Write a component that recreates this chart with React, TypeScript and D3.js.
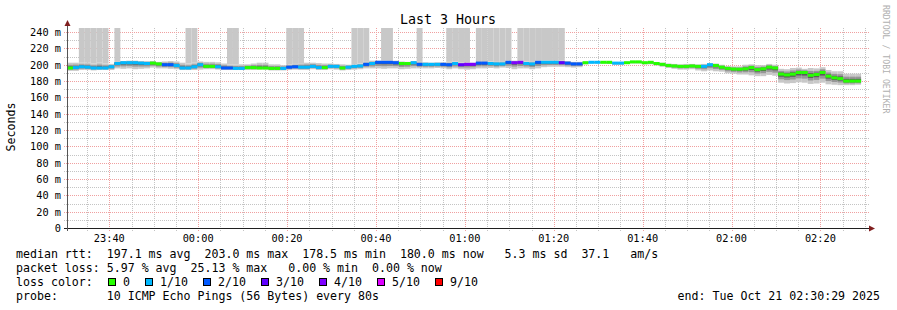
import React from 'react';
import * as d3 from 'd3';

// ---------- data ----------
const chartTitle = 'Last 3 Hours';
const yAxisLabel = 'Seconds';
const watermark = 'RRDTOOL / TOBI OETIKER';
const endTime = Date.UTC(2025, 9, 21, 2, 30, 29);
const spanSeconds = 3 * 3600;
const stepSeconds = 80;

// median rtt per 80 s step (ms)
const median: number[] = [
  196, 196.5, 197.5, 197, 196, 196, 196, 197.5, 201.5, 202.5,
  202.5, 202.5, 202, 201.5, 202, 201, 200, 200, 199, 196,
  196, 197.5, 200, 198, 198, 197.5, 196, 196, 195.5, 195.5,
  196.5, 196.5, 196, 196, 195.5, 195.5, 195.5, 197, 197.5, 197,
  197, 198, 196.5, 196.5, 198, 198, 196, 197, 198, 198.5,
  200.5, 201.5, 203, 203, 203, 202.5, 201.5, 201.5, 202.5, 200.5,
  200.5, 200.5, 200.5, 200.5, 200, 201.5, 200, 200.5, 200.5, 202,
  202, 201.5, 201, 201, 203, 202.5, 203, 201.5, 201, 203,
  203, 203, 203, 202.5, 202, 201, 201, 202.5, 203, 203,
  203, 203, 202, 202, 202.5, 203.5, 203.5, 202.5, 203, 201.5,
  200.5, 199, 198.5, 198, 198, 198.5, 198, 198, 200, 199,
  197, 195.5, 194.7, 194.5, 195, 196.5, 194, 195, 197, 196,
  188.5, 187.5, 188.5, 190.5, 190.5, 187, 188, 190.5, 186, 184,
  183, 180, 180, 180,
];

// lost pings (out of 10) per step
const lossCount: number[] = [
  0, 1, 1, 1, 1, 1, 1, 1, 1, 1,
  1, 1, 1, 1, 0, 0, 2, 2, 1, 1,
  1, 1, 1, 0, 0, 1, 2, 2, 1, 1,
  0, 0, 0, 0, 0, 0, 1, 2, 2, 1,
  1, 1, 1, 0, 1, 1, 0, 1, 1, 1,
  2, 1, 2, 2, 2, 2, 0, 0, 1, 2,
  1, 1, 1, 2, 2, 1, 3, 4, 4, 2,
  2, 1, 1, 1, 2, 4, 4, 1, 1, 2,
  1, 1, 1, 3, 2, 2, 2, 0, 1, 1,
  0, 0, 1, 1, 0, 0, 0, 0, 0, 0,
  0, 0, 0, 0, 0, 0, 0, 1, 1, 0,
  0, 0, 0, 0, 0, 0, 0, 0, 0, 0,
  0, 0, 0, 0, 0, 0, 0, 0, 0, 0,
  0, 0, 0, 0,
];

// fastest ping per step (ms)
const smokeLo: number[] = [
  192.5, 192.5, 193.5, 193.5, 193, 193.5, 193.5, 193.5, 195.5, 195,
  195.5, 194.5, 195, 195.5, 196.5, 195.5, 195.5, 195, 194.5, 193.5,
  193.5, 193.5, 194, 194.5, 194.5, 194, 193.5, 193.5, 193.5, 193.5,
  193.5, 193.5, 194, 194, 193, 193, 193, 193.5, 194, 193.5,
  193.5, 194.5, 193.5, 193.5, 194.5, 194, 193, 193.5, 194, 194.5,
  195.5, 195.5, 195.5, 195, 195.5, 195.5, 194.5, 195, 195.5, 195.5,
  195.5, 195.5, 196, 195.5, 194.5, 195.5, 194.5, 194, 194.5, 195.5,
  195.5, 196, 195.5, 196.5, 196, 194.5, 195.5, 195.5, 194.5, 195.5,
  197, 197.5, 197.5, 197.5, 197, 196.5, 197, 200.5, 201.5, 201.5,
  201.5, 201, 200, 200, 201, 201.5, 201.5, 200.5, 200.5, 199,
  197.5, 196, 195, 194, 194, 194.5, 193, 192, 193, 192,
  191.5, 189.5, 189, 188, 188, 187, 186, 186, 187.5, 186.5,
  178, 177, 177.5, 178.5, 178, 176.5, 177, 178, 176, 175.5,
  175, 175, 175, 175.5,
];

// slowest ping per step (ms)
const smokeHi: number[] = [
  202.5, 202.5, 202.5, 202.5, 201.5, 203, 201.5, 201, 204.5, 204.5,
  205, 205, 204.5, 204.5, 204.5, 203.5, 204, 204.5, 204, 202.5,
  201.5, 202.5, 204, 203.5, 203.5, 203, 201.5, 200.5, 200.5, 200.5,
  200.5, 201.5, 202.5, 202.5, 200.5, 200.5, 199.5, 200.5, 201, 202,
  202.5, 202.5, 202, 201.5, 201.5, 201, 200.5, 200, 200.5, 201.5,
  203.5, 205, 205, 205, 205.5, 205, 204, 203.5, 204.5, 203.5,
  203, 202.5, 203, 203, 203.5, 204, 202.5, 203, 202.5, 204.5,
  204.5, 204, 203.5, 203.5, 205, 205, 205.5, 204, 203.5, 205,
  205, 205, 205, 205.5, 204.5, 203.5, 203.5, 203.5, 204, 203.5,
  203.5, 203.5, 203, 203, 203.5, 204, 204, 203.5, 204, 203,
  202.5, 201.5, 201, 200.5, 201, 201, 200.5, 201, 202, 201.5,
  200, 198.5, 198, 198, 200, 200.5, 199.5, 199.5, 201, 200,
  195, 194.5, 196, 196.5, 195, 196, 195.5, 197, 193.5, 192,
  192, 189, 189, 189,
];

// steps where lost pings push the smoke off the top of the graph
const spikeSteps: number[] = [
  2, 3, 4, 5, 6, 8, 20, 21, 27, 28, 37, 38, 39, 48, 49, 50, 53, 54, 59,
  64, 65, 66, 67, 69, 70, 71, 72, 73, 74, 76, 77, 78, 79, 80, 81, 82, 83,
];

const lossThresholds = [1, 2, 3, 4, 5, 9];
const lossColors = ['#26ff00', '#00b8ff', '#0059ff', '#5e00ff', '#7e00ff', '#dd00ff', '#ff0000'];
const lossLabels = ['0', '1/10', '2/10', '3/10', '4/10', '5/10', '9/10'];

const yTickValues = [0, 20, 40, 60, 80, 100, 120, 140, 160, 180, 200, 220, 240];

const legendMedian = 'median rtt:  197.1 ms avg  203.0 ms max  178.5 ms min  180.0 ms now   5.3 ms sd  37.1   am/s';
const legendLoss = 'packet loss: 5.97 % avg  25.13 % max   0.00 % min  0.00 % now';
const legendLossColor = 'loss color:';
const legendProbe = 'probe:       10 ICMP Echo Pings (56 Bytes) every 80s';
const legendEnd = 'end: Tue Oct 21 02:30:29 2025';

// ---------- layout ----------
const W = 897;
const H = 310;
const X0 = 67;
const X1 = 867;
const YB = 228;
const YT = 28;
const MONO = '"DejaVu Sans Mono", "Liberation Mono", monospace';

export default function App() {
  const start = new Date(endTime - spanSeconds * 1000);
  const end = new Date(endTime);
  const x = d3.scaleUtc().domain([start, end]).range([X0, X1]);
  const y = d3.scaleLinear().domain([0, 245]).range([YB, YT]);
  const lossColor = d3.scaleThreshold<number, string>().domain(lossThresholds).range(lossColors);

  const stepX = (i: number) => x(new Date(start.getTime() + i * stepSeconds * 1000));

  const minorY = d3.range(0, 241, 10);
  const minorX = d3.utcMinute.every(5)!.range(start, end);
  const majorX = d3.utcMinute.every(20)!.range(start, end);
  const fmt = d3.utcFormat('%H:%M');

  const greyGrid = '#c4c4c4';
  const redGrid = '#f0a0a0';
  const py = (v: number) => Math.round(y(v)) + 0.5;
  const px = (t: Date) => Math.round(x(t)) + 0.5;

  const smoke: React.ReactNode[] = [];
  median.forEach((m, i) => {
    const xa = stepX(i);
    const xb = stepX(i + 1);
    const lo = smokeLo[i];
    const hi = smokeHi[i];
    const w = xb - xa;
    const band = (a: number, b: number, fill: string, k: string) => (
      <rect key={k} x={xa} width={w} y={y(b)} height={Math.max(0, y(a) - y(b))} fill={fill} />
    );
    if (spikeSteps.includes(i)) {
      smoke.push(band(hi, 245, '#c8c8c8', `sp${i}`));
    }
    smoke.push(band(lo, hi, '#c8c8c8', `o${i}`));
    smoke.push(band(m - (m - lo) * 0.6, m + (hi - m) * 0.6, '#969696', `m${i}`));
    smoke.push(band(m - (m - lo) * 0.3, m + (hi - m) * 0.3, '#5a5a5a', `n${i}`));
  });

  const medianMarks = median.map((m, i) => {
    const xa = stepX(i);
    const xb = stepX(i + 1);
    return (
      <rect key={`md${i}`} x={xa} width={xb - xa} y={y(m) - 1.5} height={3} fill={lossColor(lossCount[i])} />
    );
  });

  // legend squares
  let lx = 108.5;
  const legendItems = lossLabels.map((lab, i) => {
    const g = (
      <g key={`lg${i}`}>
        <rect x={lx} y={278.5} width={7} height={7} fill={lossColors[i]} stroke="#000" strokeWidth={1} />
        <text x={lx + 14.5} y={286} fontFamily={MONO} fontSize={11.6} fill="#000">{lab}</text>
      </g>
    );
    lx += 30 + lab.length * 7;
    return g;
  });

  return (
    <svg width={W} height={H} style={{ position: 'absolute', left: 0, top: 0, background: '#fff' }}>
      <rect x={0} y={0} width={W} height={H} fill="#fff" />
      {/* grid */}
      {minorY.filter((v) => v % 20 !== 0).map((v) => (
        <line key={`hy${v}`} x1={X0 - 3} x2={X1 + 2} y1={py(v)} y2={py(v)} stroke={greyGrid} strokeDasharray="1,1" />
      ))}
      {minorX.filter((t) => t.getUTCMinutes() % 20 !== 0).map((t) => (
        <line key={`vx${t.getTime()}`} x1={px(t)} x2={px(t)} y1={YB + 3} y2={YT} stroke={greyGrid} strokeDasharray="1,1" />
      ))}
      {yTickValues.filter((v) => v > 0).map((v) => (
        <line key={`hY${v}`} x1={X0 - 3} x2={X1 + 2} y1={py(v)} y2={py(v)} stroke={redGrid} strokeDasharray="1,1" />
      ))}
      {majorX.map((t) => (
        <line key={`vX${t.getTime()}`} x1={px(t)} x2={px(t)} y1={YB + 3} y2={YT} stroke={redGrid} strokeDasharray="1,1" />
      ))}

      {/* smoke and median */}
      {smoke}
      {medianMarks}

      {/* axes */}
      <line x1={X0 - 3} x2={X1 + 4} y1={YB + 0.5} y2={YB + 0.5} stroke="#1f1f1f" />
      <line x1={X0 + 0.5} x2={X0 + 0.5} y1={YB + 3} y2={YT - 4} stroke="#555" />
      <path d={`M${X0 - 2.5},${YT - 2} L${X0 + 3.5},${YT - 2} L${X0 + 0.5},${YT - 8} Z`} fill="#801f1f" />
      <path d={`M${X1 + 2},${YB - 2.5} L${X1 + 2},${YB + 3.5} L${X1 + 8},${YB + 0.5} Z`} fill="#801f1f" />

      {/* tick labels */}
      {yTickValues.map((v) => (
        <text key={`yl${v}`} x={61} y={y(v) + 4} textAnchor="end" fontFamily={MONO} fontSize={10.3} fill="#000" style={{ whiteSpace: 'pre' }}>
          {v === 0 ? '0' : `${v} m`}
        </text>
      ))}
      {majorX.map((t) => (
        <text key={`xl${t.getTime()}`} x={x(t)} y={241.5} textAnchor="middle" fontFamily={MONO} fontSize={10.3} fill="#000">
          {fmt(t)}
        </text>
      ))}

      {/* title & labels */}
      <text x={448} y={24} textAnchor="middle" fontFamily={MONO} fontSize={13.3} fill="#000">{chartTitle}</text>
      <text transform={`translate(15,127) rotate(-90)`} textAnchor="middle" fontFamily={MONO} fontSize={11.6} fill="#000">{yAxisLabel}</text>
      <text transform={`translate(883,5) rotate(90)`} textAnchor="start" fontFamily={MONO} fontSize={8.2} fill="#b0b0b0">{watermark}</text>

      {/* legend */}
      <text x={16} y={258} fontFamily={MONO} fontSize={11.6} fill="#000" style={{ whiteSpace: 'pre' }}>{legendMedian}</text>
      <text x={16} y={272} fontFamily={MONO} fontSize={11.6} fill="#000" style={{ whiteSpace: 'pre' }}>{legendLoss}</text>
      <text x={16} y={286} fontFamily={MONO} fontSize={11.6} fill="#000" style={{ whiteSpace: 'pre' }}>{legendLossColor}</text>
      {legendItems}
      <text x={16} y={300} fontFamily={MONO} fontSize={11.6} fill="#000" style={{ whiteSpace: 'pre' }}>{legendProbe}</text>
      <text x={880} y={300} textAnchor="end" fontFamily={MONO} fontSize={11.6} fill="#000" style={{ whiteSpace: 'pre' }}>{legendEnd}</text>
    </svg>
  );
}
